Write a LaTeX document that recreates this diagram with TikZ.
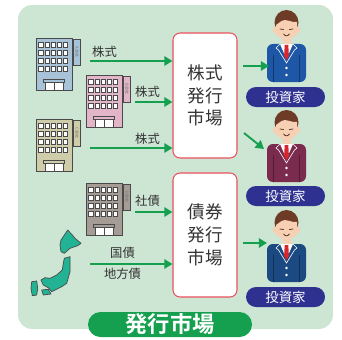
\documentclass[tikz,border=0pt]{standalone}
\usepackage{fontspec}
\setmainfont{Noto Sans CJK JP}[BoldFont={Noto Sans CJK JP Bold}]
\usetikzlibrary{arrows.meta}

\definecolor{panel}{HTML}{CDE5D3}
\definecolor{flowgreen}{HTML}{14A04E}
\definecolor{tagblue}{HTML}{2E3190}
\definecolor{boxred}{HTML}{E8505B}
\definecolor{inktext}{HTML}{333333}
\definecolor{bldgline}{HTML}{4A4A4A}
\definecolor{bldgA}{HTML}{A8C3D7}
\definecolor{bldgB}{HTML}{E3B5C8}
\definecolor{bldgC}{HTML}{CFCCA9}
\definecolor{bldgD}{HTML}{A59C95}
\definecolor{japan}{HTML}{21B394}
\definecolor{skin}{HTML}{F7CFB2}
\definecolor{hair}{HTML}{6E3B27}
\definecolor{tiered}{HTML}{D7262D}
\definecolor{suitA}{HTML}{1E57A6}
\definecolor{suitB}{HTML}{7B2C4E}
\definecolor{suitC}{HTML}{1B4A82}

\tikzset{
  bldg/.style={draw=bldgline, line width=0.7pt, fill=#1},
  pics/office/.style 2 args={code={
    \draw[bldg=#2] (0,0) rectangle (36,52);
    \foreach \i in {0,...,4}
      \foreach \j in {0,...,3}
        \draw[bldg=white, line width=0.6pt] ({2.8+6.2*\i},{4+8*\j}) rectangle ++(4.2,5.5);
    \draw[bldg=#2] (7.5,41) rectangle (28.5,44);
    \draw[bldg=white, line width=0.6pt] (9,44) rectangle (18,52) (18,44) rectangle (27,52);
    \draw[bldg=#2] (37.5,1) rectangle (44.5,27);
    \node[rotate=-90, text=black!55, inner sep=0pt,
          font=\fontsize{3.5}{4}\selectfont] at (41,14) {#1};
  }},
  pics/investor/.style={code={
    % jacket
    \fill[#1, rounded corners=5pt] (-19.5,72) -- (-19.5,34) -- (19.5,34) -- (19.5,72) -- cycle;
    \draw[#1!65!black, line width=0.7pt] (-13,45) -- (-13,72) (13,45) -- (13,72);
    % neck, shirt and tie
    \fill[skin] (-4,25) rectangle (4,35);
    \fill[white] (-6.5,34) -- (6.5,34) -- (0,49) -- cycle;
    \fill[tiered] (-1.8,35) -- (1.8,35) -- (2.4,46) -- (0,50) -- (-2.4,46) -- cycle;
    \draw[white, line width=0.5pt] (-6.5,34) -- (-10.5,38) -- (-8,40) -- (0,53)
      -- (8,40) -- (10.5,38) -- (6.5,34);
    \fill[white] (0,58) circle (1.3) (0,65) circle (1.3);
    % head
    \fill[hair] (0,12.5) ellipse (12 and 12.5);
    \fill[skin] (-11.3,20) ellipse (2.3 and 3.5) (11.3,20) ellipse (2.3 and 3.5);
    \fill[skin] (-10.5,15) -- (-10.5,22) .. controls (-10,31.5) and (10,31.5) .. (10.5,22)
      -- (10.5,12) .. controls (5,13) and (-1,8) .. (-5,11)
      .. controls (-7,13) and (-9,13.5) .. (-10.5,15) -- cycle;
    \draw[hair!60!black, line width=0.6pt, line cap=round] (-6.5,19) -- (-3,19.5) (3,19.5) -- (6.5,19);
    \draw[hair!60!black, line width=0.6pt, line cap=round] (-3,24) .. controls (-1,26.5) and (1,26.5) .. (3,24);
  }}
}

\begin{document}
\begin{tikzpicture}[x=0.03cm, y=-0.03cm,
    flow/.style={draw=flowgreen, line width=1.6pt, -{Triangle[length=7pt, width=8pt]}},
    flow label/.style={text=inktext, inner sep=0pt, font=\fontsize{10.5}{12}\selectfont},
    market box/.style={draw=boxred, line width=0.9pt, fill=white, rounded corners=6pt,
      minimum width=1.92cm, text=inktext, align=center,
      font=\fontsize{15}{19.5}\selectfont},
    investor tag/.style={fill=tagblue, text=white, rounded corners=0.3cm,
      minimum width=2.37cm, minimum height=0.6cm, inner sep=0pt,
      font=\fontsize{11.5}{13}\selectfont},
    market tag/.style={fill=flowgreen, text=white, rounded corners=0.375cm,
      minimum width=4.92cm, minimum height=0.75cm, inner sep=0pt,
      font=\bfseries\fontsize{19}{20}\selectfont}]
  \useasboundingbox (0,0) rectangle (342,339);
  \fill[panel, rounded corners=12pt] (18,5) rectangle (333,329);

  % issuers
  \pic at (36,38)  {office={A会社}{bldgA}};
  \pic at (86,75)  {office={B会社}{bldgB}};
  \pic at (36,119) {office={C会社}{bldgC}};
  \pic at (86,183) {office={D会社}{bldgD}};

  % the islands
  \begin{scope}[fill=japan, draw=bldgline, line width=0.6pt, line join=round]
    \filldraw (61,240) -- (67.7,230) -- (72.3,235) -- (75,238.3) -- (81,243.3) -- (77.7,245.7)
      -- (70,248.3) -- (64.3,253.3) -- (61,251.7) -- (60,245) -- cycle;
    \filldraw (64.3,258.3) -- (70,256.7) -- (70,271.7) -- (66.7,283.3) -- (61.7,286.7)
      -- (55,290) -- (51.7,291.7) -- (48.3,287.7) -- (43.3,285) -- (41,280) -- (45,277.7)
      -- (50,278.3) -- (56.7,275) -- (62.3,270) -- (63.3,263.3) -- cycle;
    \filldraw (31.7,281.7) -- (36.7,281) -- (37.7,288.3) -- (36.7,295) -- (32.3,295.7)
      -- (31,288.3) -- cycle;
    \filldraw (41.7,290) -- (48.3,289.3) -- (51,294) -- (43.3,295) -- cycle;
  \end{scope}

  % markets
  \node[market box, minimum height=3.75cm] (stock) at (205,95.5) {株式\\発行\\市場};
  \node[market box, minimum height=3.72cm] (bond) at (205,235) {債券\\発行\\市場};

  % investors
  \pic at (286.5,10)  {investor=suitA};
  \pic at (286.5,110) {investor=suitB};
  \pic at (286.5,210) {investor=suitC};
  \node[investor tag] (inv1) at (285.5,97)  {投資家};
  \node[investor tag] (inv2) at (285.5,196) {投資家};
  \node[investor tag] (inv3) at (285.5,297) {投資家};

  % what is issued
  \coordinate (a1) at (90,61);
  \coordinate (a2) at (135,102);
  \coordinate (a3) at (90,148);
  \coordinate (a4) at (135,212);
  \coordinate (a5) at (90,264);
  \draw[flow] (a1) -- (a1 -| stock.west);
  \draw[flow] (a2) -- (a2 -| stock.west);
  \draw[flow] (a3) -- (a3 -| stock.west);
  \draw[flow] (a4) -- (a4 -| bond.west);
  \draw[flow] (a5) -- (a5 -| bond.west);
  \node[flow label] (l1) at (104.5,51.5) {株式};
  \node[flow label] (l2) at (147.5,92)   {株式};
  \node[flow label] (l3) at (147.5,138.5) {株式};
  \node[flow label] (l4) at (147.5,201)  {社債};
  \node[flow label] (l5) at (122.5,253)  {国債};
  \node[flow label] (l6) at (122.5,273.5) {地方債};

  % to the investors
  \coordinate (b1) at (243,66);
  \coordinate (b2) at (244,133);
  \coordinate (b3) at (243,243);
  \coordinate (p1) at (269,66);
  \coordinate (p2) at (264,149);
  \coordinate (p3) at (267,243);
  \draw[flow] (b1) -- (p1);
  \draw[flow] (b2) -- (p2);
  \draw[flow] (b3) -- (p3);

  \node[market tag] (issue) at (170,324.5) {発行市場};
\end{tikzpicture}
\end{document}
